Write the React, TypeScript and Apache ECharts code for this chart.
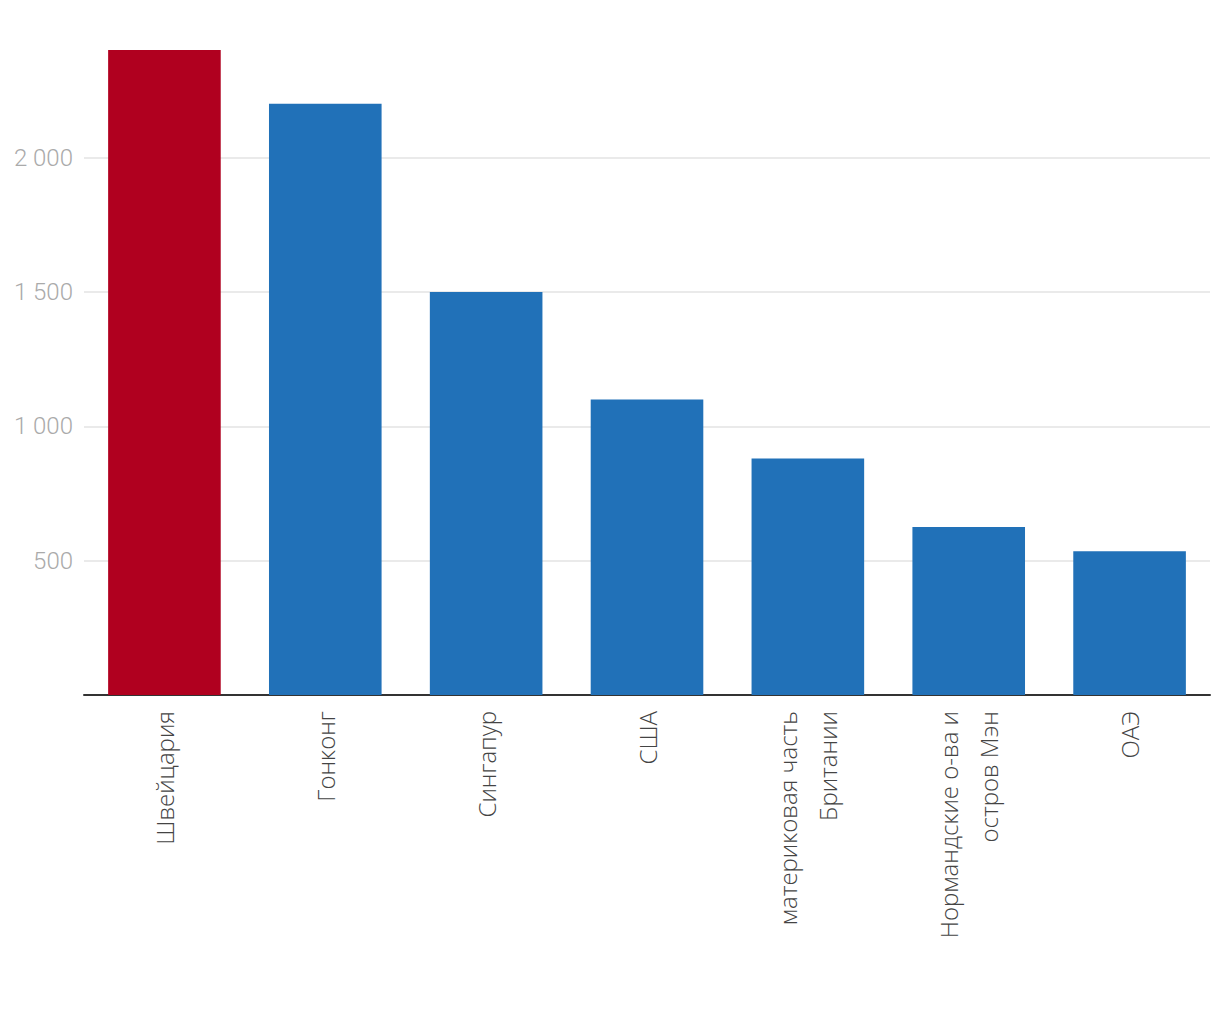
import React, { useEffect, useRef } from "react";
import * as echarts from "echarts";

const categories = [
  "Швейцария",
  "Гонконг",
  "Сингапур",
  "США",
  "материковая часть\nБритании",
  "Нормандские о-ва и\nостров Мэн",
  "ОАЭ",
];
const values = [2400, 2200, 1500, 1100, 880, 625, 535];
const highlightIndex = 0;
const yTicks = [500, 1000, 1500, 2000];

export default function App() {
  const ref = useRef<HTMLDivElement>(null);
  useEffect(() => {
    if (!ref.current) return;
    const chart = echarts.init(ref.current, undefined, { renderer: "svg" });
    chart.setOption({
      animation: false,
      grid: { left: 84, right: 10, top: 50, bottom: 325 },
      xAxis: {
        type: "category",
        data: categories,
        axisLine: { lineStyle: { color: "#333", width: 2 } },
        axisTick: { show: false },
        axisLabel: {
          rotate: 90,
          margin: 16,
          color: "#444",
          fontFamily: "Open Sans",
          fontWeight: 300,
          fontSize: 24,
          lineHeight: 40,
          align: "right",
        },
      },
      yAxis: {
        type: "value",
        min: 0,
        max: 2400,
        interval: 500,
        axisLine: { show: false },
        axisTick: { show: false },
        splitLine: { showMaxLine: false, lineStyle: { color: "#e3e3e3", width: 1.5 } },
        axisLabel: {
          showMinLabel: false,
          showMaxLabel: false,
          margin: 11,
          color: "#aaaaaa",
          fontFamily: "Roboto",
          fontWeight: 300,
          fontSize: 24,
          formatter: (v: number) =>
            yTicks.includes(v) ? String(v).replace(/\B(?=(\d{3})+(?!\d))/g, " ") : "",
        },
      },
      series: [
        {
          type: "bar",
          barWidth: "70%",
          data: values.map((v, i) => ({
            value: v,
            itemStyle: { color: i === highlightIndex ? "#b0001f" : "#2171b8" },
          })),
        },
      ],
    });
    return () => chart.dispose();
  }, []);
  return <div ref={ref} style={{ width: 1220, height: 1020, margin: -8 }} />;
}
